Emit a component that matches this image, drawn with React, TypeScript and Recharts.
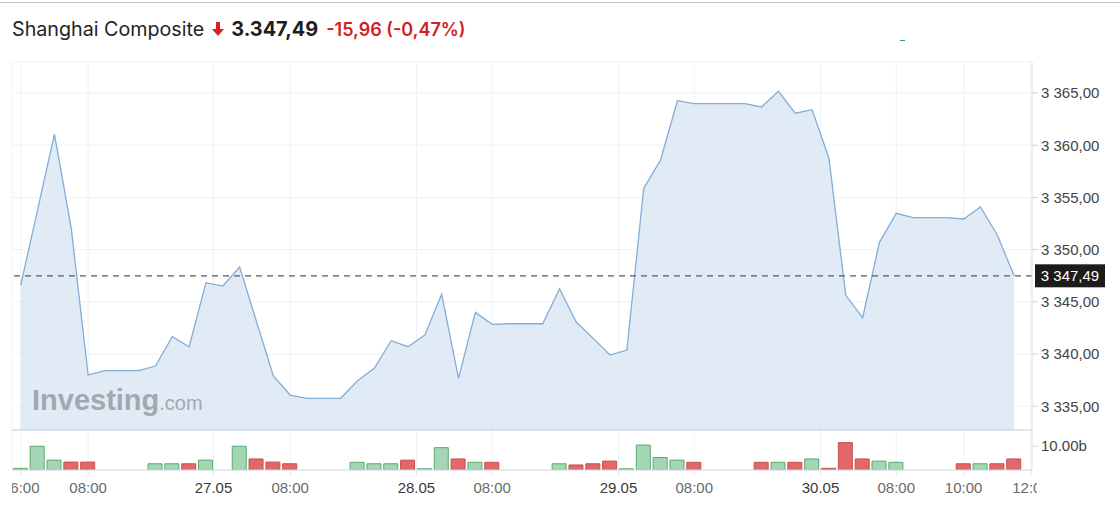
import React from 'react';
import {
  ComposedChart,
  Area,
  Bar,
  Cell,
  XAxis,
  YAxis,
  CartesianGrid,
  ReferenceLine,
} from 'recharts';

// ---- data ----
const instrumentName = 'Shanghai Composite';
const lastPrice = 3347.49;
const changeAbs = -15.96;
const changePct = -0.47;

const prices = [
  3346.61, 3353.8, 3361.07, 3352.04, 3337.99, 3338.4, 3338.4, 3338.4, 3338.85, 3341.66,
  3340.7, 3346.83, 3346.51, 3348.33, 3343.11, 3337.89, 3336.07, 3335.76, 3335.76, 3335.76,
  3337.44, 3338.63, 3341.27, 3340.7, 3341.82, 3345.72, 3337.67, 3343.99, 3342.84, 3342.9,
  3342.9, 3342.9, 3346.25, 3343.04, 3341.5, 3339.9, 3340.38, 3355.87, 3358.58, 3364.26,
  3363.98, 3363.98, 3363.98, 3363.98, 3363.66, 3365.16, 3363.06, 3363.4, 3358.75, 3345.62,
  3343.48, 3350.7, 3353.48, 3353.06, 3353.06, 3353.06, 3352.93, 3354.08, 3351.4, 3347.49,
];

// volume in billions (null = no bar)
const volumes: (number | null)[] = [
  0.7, 9.9, 4.1, 3.3, 3.3, null, null, null, 2.6, 2.6,
  2.6, 4.1, null, 9.9, 4.6, 3.3, 2.6, null, null, null,
  3.2, 2.6, 2.6, 4.1, 0.5, 9.3, 4.6, 3.2, 3.2, null,
  null, null, 2.6, 2.1, 2.6, 3.7, 0.5, 10.4, 5.2, 4.1,
  3.2, null, null, null, 3.2, 3.2, 3.2, 4.6, 0.7, 11.4,
  4.6, 3.7, 3.2, null, null, null, 2.6, 2.6, 2.6, 4.6,
];

const xTickPositions = [0, 4, 11.45, 16, 23.5, 28, 35.5, 40, 47.5, 52, 56, 60];
const xTickLabels = ['06:00', '08:00', '27.05', '08:00', '28.05', '08:00', '29.05', '08:00', '30.05', '08:00', '10:00', '12:00'];
const priceTicks = [3335, 3340, 3345, 3350, 3355, 3360, 3365];
const volumeTick = 10;

// axis ranges
const xDomain: [number, number] = [-0.52, 60.06];
const priceDomain: [number, number] = [3328.89, 3367.97];
const priceFloor = 3332.72;
const volumeDomain: [number, number] = [0, 170];

const data = prices.map((p, i) => ({
  i,
  price: p,
  volume: volumes[i],
  up: i === 0 ? true : p >= prices[i - 1],
}));

// ---- formatting ----
const fmtAxis = (v: number) => {
  const [int, dec] = v.toFixed(2).split('.');
  return int.replace(/\B(?=(\d{3})+(?!\d))/g, ' ') + ',' + dec;
};
const fmtHeader = (v: number) => {
  const [int, dec] = Math.abs(v).toFixed(2).split('.');
  return (v < 0 ? '-' : '') + int.replace(/\B(?=(\d{3})+(?!\d))/g, '.') + ',' + dec;
};
const fmtVolume = (v: number) => `${v.toFixed(2)}b`;

const AXIS_FONT = '"Liberation Sans", Arial, sans-serif';

const XTick = (props: any) => {
  const { x, y, index } = props;
  const label = xTickLabels[index] ?? '';
  const isDate = label.includes('.');
  const id = `xclip-${index}`;
  return (
    <g>
      <defs>
        <clipPath id={id}>
          <rect x={12} y={y - 20} width={1025} height={60} />
        </clipPath>
      </defs>
      <text
        x={x}
        y={y}
        dy={15}
        textAnchor="middle"
        fontSize={15}
        fontFamily={AXIS_FONT}
        fill={isDate ? '#3a3a3a' : '#6a6a6a'}
        clipPath={`url(#${id})`}
      >
        {label}
      </text>
    </g>
  );
};

const PriceTag = (props: any) => {
  const vb = props.viewBox || {};
  const x = (vb.x ?? 12) + (vb.width ?? 1020) + 3;
  const y = vb.y ?? 0;
  return (
    <g>
      <rect x={x} y={y - 11.5} width={70} height={23} fill="#1c1c1c" />
      <text
        x={x + 35}
        y={y}
        dy="0.36em"
        textAnchor="middle"
        fontSize={15}
        fontFamily={AXIS_FONT}
        fill="#ffffff"
      >
        {fmtAxis(lastPrice)}
      </text>
    </g>
  );
};

const VolumeTickLabel = (props: any) => {
  const vb = props.viewBox || {};
  const x = (vb.x ?? 12) + (vb.width ?? 1020);
  const y = vb.y ?? 0;
  return (
    <g>
      <line x1={x} x2={x + 6} y1={y} y2={y} stroke="#d0d4db" />
      <text
        x={x + 9}
        y={y}
        dy="0.355em"
        textAnchor="start"
        fontSize={15}
        fontFamily={AXIS_FONT}
        fill="#444"
      >
        {fmtVolume(volumeTick)}
      </text>
    </g>
  );
};

const DownArrow = () => (
  <svg width={12} height={14} viewBox="0 0 12 14" style={{ marginRight: 7, marginLeft: 8, alignSelf: 'center', position: 'relative', top: -1 }}>
    <path d="M4 0h4v7h4l-6 7l-6-7h4z" fill="#d61f1f" />
  </svg>
);

export default function App() {
  return (
    <div
      style={{
        position: 'absolute',
        left: 0,
        top: 0,
        width: 1120,
        height: 514,
        background: '#ffffff',
        overflow: 'hidden',
      }}
    >
      <div style={{ position: 'absolute', left: 0, top: 2, width: 1120, height: 1, background: '#c4c4c4' }} />
      <div
        style={{
          position: 'absolute',
          left: 12,
          top: 17,
          display: 'flex',
          alignItems: 'baseline',
          fontFamily: 'Inter, "Noto Sans", sans-serif',
          lineHeight: '24px',
          whiteSpace: 'nowrap',
        }}
      >
        <span style={{ fontSize: 19.7, color: '#232526' }}>{instrumentName}</span>
        <DownArrow />
        <span style={{ fontSize: 19.9, fontWeight: 700, color: '#1d1d1f' }}>{fmtHeader(lastPrice)}</span>
        <span style={{ fontSize: 18, fontWeight: 600, color: '#d21f1f', marginLeft: 8 }}>
          {fmtHeader(changeAbs)} ({fmtHeader(changePct)}%)
        </span>
      </div>
      <div style={{ position: 'absolute', left: 900, top: 40, width: 5, height: 1, background: '#3a9a4a' }} />

      <div style={{ position: 'absolute', left: 0, top: 0 }}>
        <ComposedChart
          width={1120}
          height={514}
          data={data}
          margin={{ top: 62, right: 0, bottom: 0, left: 12 }}
        >
          <CartesianGrid yAxisId="price" stroke="#eef1f5" strokeWidth={1} />
          <XAxis
            dataKey="i"
            type="number"
            domain={xDomain}
            allowDataOverflow
            ticks={xTickPositions}
            interval={0}
            height={44}
            tickSize={6}
            tickMargin={2}
            tick={<XTick />}
            axisLine={{ stroke: '#d8dce3' }}
            tickLine={{ stroke: '#e1e4ea' }}
          />
          <YAxis yAxisId="vol" orientation="right" domain={volumeDomain} allowDataOverflow hide />
          <YAxis
            yAxisId="price"
            orientation="right"
            domain={priceDomain}
            allowDataOverflow
            ticks={priceTicks}
            width={88}
            tickSize={6}
            tickMargin={3}
            axisLine={{ stroke: '#e4e7ec' }}
            tickLine={{ stroke: '#d0d4db' }}
            tick={{ fill: '#444', fontSize: 15, fontFamily: AXIS_FONT }}
            tickFormatter={fmtAxis}
          />
          <Area
            yAxisId="price"
            type="linear"
            dataKey="price"
            baseValue={priceFloor}
            stroke="#82aed8"
            strokeWidth={1.3}
            fill="#d9e6f3"
            fillOpacity={0.8}
            dot={false}
            activeDot={false}
            isAnimationActive={false}
          />
          <Bar yAxisId="vol" dataKey="volume" barSize={14} isAnimationActive={false}>
            {data.map((d) => (
              <Cell
                key={d.i}
                fill={d.up ? '#a3d6b2' : '#e06868'}
                stroke={d.up ? '#5ca873' : '#c85050'}
                strokeWidth={1}
              />
            ))}
          </Bar>
          <ReferenceLine yAxisId="price" y={priceFloor} stroke="#c5c9d1" strokeWidth={1.2} />
          <ReferenceLine
            yAxisId="vol"
            y={volumeTick}
            stroke="none"
            strokeOpacity={0}
            label={<VolumeTickLabel />}
          />
          <ReferenceLine
            yAxisId="price"
            y={lastPrice}
            stroke="#5a5a5a"
            strokeWidth={1.2}
            strokeDasharray="6 5"
            label={<PriceTag />}
          />
        </ComposedChart>
      </div>

      <div
        style={{
          position: 'absolute',
          left: 32,
          top: 386,
          display: 'flex',
          alignItems: 'baseline',
          lineHeight: '28px',
          color: '#a3a8b0',
          fontFamily: AXIS_FONT,
          pointerEvents: 'none',
        }}
      >
        <span style={{ fontSize: 29, fontWeight: 700 }}>Investing</span>
        <span style={{ fontSize: 20 }}>.com</span>
      </div>
    </div>
  );
}
